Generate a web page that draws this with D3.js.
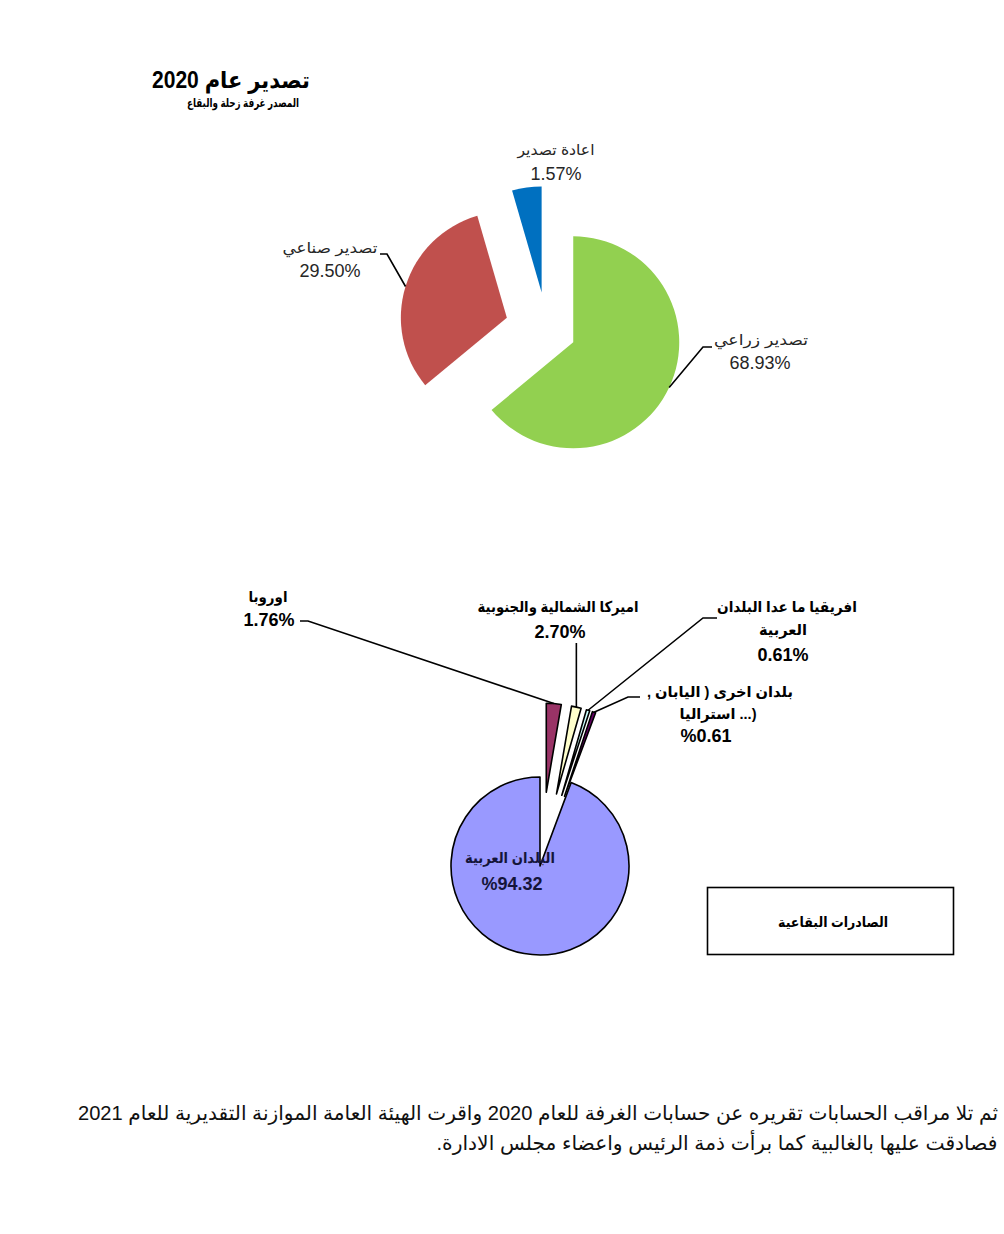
<!DOCTYPE html>
<html><head><meta charset="utf-8">
<script src="https://cdn.jsdelivr.net/npm/d3@7"></script>
<style>body{margin:0;background:#fff}svg{display:block}</style>
</head><body>
<svg id="c" width="1004" height="1234"></svg>
<script>
// ---------- Chart 1 : تصدير عام 2020 ----------
const exportCats   = ["تصدير زراعي", "تصدير صناعي", "اعادة تصدير"];
const exportShares = [64.0, 31.5, 4.5];           // slice shares as drawn in the picture
const exportLabels = ["68.93%", "29.50%", "1.57%"];
const exportColors = ["#92D050", "#C0504D", "#0070C0"];

// ---------- Chart 2 : الصادرات البقاعية ----------
const regionCats   = [["اوروبا"], ["اميركا الشمالية والجنوبية"], ["افريقيا ما عدا البلدان", "العربية"],
                      ["بلدان اخرى  ( اليابان ,", "استراليا ...)"], ["البلدان العربية"]];
const regionShares = [2.70, 1.76, 0.61, 0.61, 94.32];
const regionLabels = ["1.76%", "2.70%", "0.61%", "%0.61", "%94.32"];
const regionColors = ["#993366", "#FFFFCC", "#CCFFFF", "#660066", "#9999FF"];

const titleText    = "تصدير عام 2020";
const subtitleText = "المصدر غرفة زحلة والبقاع";
const boxText      = "الصادرات البقاعية";
const paraLines    = ["ثم تلا مراقب الحسابات تقريره عن حسابات الغرفة للعام 2020 واقرت الهيئة العامة الموازنة التقديرية للعام 2021",
                      "فصادقت عليها بالغالبية كما برأت ذمة الرئيس واعضاء مجلس الادارة."];

const svg = d3.select("#c");
svg.append("rect").attr("width", 1004).attr("height", 1234).attr("fill", "#fff");
const FONT = "Arial, 'Liberation Sans', 'DejaVu Sans', sans-serif";

function txt(g, s, x, y, opt) {
  const t = g.append("text").attr("x", x).attr("y", y).text(s)
    .attr("text-anchor", "middle")
    .attr("font-family", FONT)
    .attr("font-size", opt.size)
    .attr("font-weight", opt.bold ? "bold" : "normal")
    .attr("fill", opt.fill || "#000");
  if (opt.rtl) t.attr("direction", "rtl");
  if (opt.len) t.attr("textLength", opt.len).attr("lengthAdjust", "spacingAndGlyphs");
  return t;
}

function drawPie(g, shares, colors, cfg) {
  const arcs = d3.pie().sort(null).value(d => d).startAngle(0).endAngle(2 * Math.PI)(shares);
  const arcGen = d3.arc().innerRadius(0).outerRadius(cfg.r);
  const info = arcs.map((a, i) => {
    const mid = (a.startAngle + a.endAngle) / 2;
    const dx = Math.sin(mid) * cfg.explode[i], dy = -Math.cos(mid) * cfg.explode[i];
    const ox = cfg.cx + dx, oy = cfg.cy + dy;
    return { a, mid, ox, oy, edge: [ox + Math.sin(mid) * cfg.r, oy - Math.cos(mid) * cfg.r] };
  });
  g.selectAll("path.s").data(info).join("path").attr("class", "s")
    .attr("transform", d => `translate(${d.ox},${d.oy})`)
    .attr("d", d => arcGen(d.a))
    .attr("fill", (d, i) => colors[i])
    .attr("stroke", cfg.stroke || "none")
    .attr("stroke-width", cfg.strokeWidth || 0)
    .attr("stroke-linejoin", "round");
  return info;
}

function leader(g, pts, edge) {
  g.append("path").attr("d", d3.line()([...pts, edge]))
    .attr("fill", "none").attr("stroke", "#000").attr("stroke-width", 1.6);
}

// ----- chart 1 -----
const g1 = svg.append("g");
txt(g1, titleText, 231, 88, { size: 23, bold: true, rtl: true, len: 158 });
txt(g1, subtitleText, 243, 107, { size: 12, bold: true, rtl: true, len: 112 });

const p1 = drawPie(g1, exportShares, exportColors, { cx: 547, cy: 330, r: 106, explode: [29, 42, 38] });
leader(g1, [[712, 347], [703, 347]], p1[0].edge);
leader(g1, [[380, 254], [387, 254]], p1[1].edge);

const lab1 = "#262626";
txt(g1, exportCats[0], 761, 345, { size: 15, rtl: true, fill: lab1, len: 94 });
txt(g1, exportLabels[0], 760, 369, { size: 18, fill: lab1 });
txt(g1, exportCats[1], 330, 253, { size: 15, rtl: true, fill: lab1, len: 95 });
txt(g1, exportLabels[1], 330, 277, { size: 18, fill: lab1 });
txt(g1, exportCats[2], 556, 155, { size: 15, rtl: true, fill: lab1, len: 77 });
txt(g1, exportLabels[2], 556, 180, { size: 18, fill: lab1 });

// ----- chart 2 -----
const g2 = svg.append("g");
const p2 = drawPie(g2, regionShares, regionColors,
  { cx: 540, cy: 866, r: 89, explode: [74, 74, 74, 74, 0], stroke: "#000", strokeWidth: 1.6 });

leader(g2, [[300, 621], [308, 621]], p2[0].edge);
leader(g2, [[p2[1].edge[0], 643]], p2[1].edge);
leader(g2, [[717, 618], [703, 618]], p2[2].edge);
leader(g2, [[640, 697], [628, 697]], p2[3].edge);

const B = { bold: true, fill: "#000" };
txt(g2, regionCats[0][0], 268, 602, { ...B, size: 15, rtl: true, len: 39 });
txt(g2, regionLabels[0], 269, 626, { ...B, size: 18 });
txt(g2, regionCats[1][0], 558, 612, { ...B, size: 15, rtl: true, len: 161 });
txt(g2, regionLabels[1], 560, 638, { ...B, size: 18 });
txt(g2, regionCats[2][0], 787, 612, { ...B, size: 15, rtl: true, len: 140 });
txt(g2, regionCats[2][1], 783, 635, { ...B, size: 15, rtl: true, len: 48 });
txt(g2, regionLabels[2], 783, 661, { ...B, size: 18 });
txt(g2, regionCats[3][0], 720, 697, { ...B, size: 15, rtl: true, len: 146 });
txt(g2, regionCats[3][1], 718, 719, { ...B, size: 15, len: 77 });
txt(g2, regionLabels[3], 706, 742, { ...B, size: 18 });
txt(g2, regionCats[4][0], 510, 863, { bold: true, fill: "#15153a", size: 15, rtl: true, len: 90 });
txt(g2, regionLabels[4], 512, 890, { bold: true, fill: "#15153a", size: 18 });

// legend-like box
g2.append("rect").attr("x", 707.5).attr("y", 887.5).attr("width", 246).attr("height", 67)
  .attr("fill", "#fff").attr("stroke", "#000").attr("stroke-width", 1.6);
txt(g2, boxText, 833, 927, { bold: true, size: 14, rtl: true, len: 110 });

// ----- paragraph -----
const g3 = svg.append("g");
txt(g3, paraLines[0], 538, 1120, { size: 20, rtl: true, len: 920, fill: "#111" });
txt(g3, paraLines[1], 717, 1150, { size: 20, rtl: true, len: 561, fill: "#111" });
</script>
</body></html>
